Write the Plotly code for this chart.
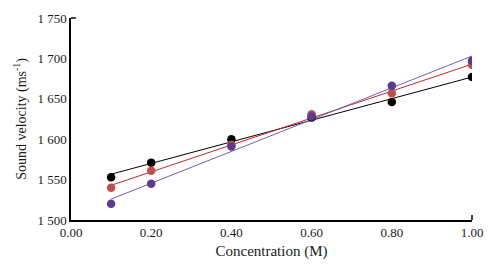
import numpy as np
import plotly.graph_objects as go

conc = [0.1, 0.2, 0.4, 0.6, 0.8, 1.0]
black_vals = [1553, 1571, 1600, 1627, 1646, 1677]
red_vals = [1540, 1561, 1593, 1631, 1657, 1692]
purple_vals = [1520, 1545, 1591, 1628, 1666, 1697]
x_ticks = [0.0, 0.2, 0.4, 0.6, 0.8, 1.0]
x_tick_labels = ["0.00", "0.20", "0.40", "0.60", "0.80", "1.00"]
y_ticks = [1500, 1550, 1600, 1650, 1700, 1750]
y_tick_labels = ["1 500", "1 550", "1 600", "1 650", "1 700", "1 750"]

series = [
    ("black", black_vals, "#000000", "#000000"),
    ("red", red_vals, "#c0504d", "#c0282d"),
    ("purple", purple_vals, "#5f3a8c", "#7060b8"),
]

fig = go.Figure()
xs = np.array(conc)
for name, vals, mcol, lcol in series:
    k, b = np.polyfit(xs, np.array(vals), 1)
    fx = [conc[0], conc[-1]]
    fig.add_trace(go.Scatter(x=fx, y=[k * v + b for v in fx], mode="lines",
                             line=dict(color=lcol, width=1), showlegend=False, hoverinfo="skip"))
for name, vals, mcol, lcol in series:
    fig.add_trace(go.Scatter(x=conc, y=vals, mode="markers",
                             marker=dict(color=mcol, size=8.5), showlegend=False, name=name))

font = dict(family="Liberation Serif, Times New Roman, serif", color="#1a1a1a", size=13)
fig.update_layout(
    width=496, height=272,
    margin=dict(l=71, r=24, t=18, b=52),
    paper_bgcolor="white", plot_bgcolor="white",
    font=font,
    xaxis=dict(range=[0, 1], tickvals=x_ticks, ticktext=x_tick_labels, showgrid=False,
               zeroline=False, showline=True, linecolor="black", linewidth=1.5,
               ticks="", title=dict(text="Concentration (M)", font=dict(size=15), standoff=6)),
    yaxis=dict(range=[1500, 1750], tickvals=y_ticks, ticktext=y_tick_labels, showgrid=False,
               zeroline=False, showline=True, linecolor="black", linewidth=1.5,
               ticks="", title=dict(text="Sound velocity (ms<sup>-1</sup>)", font=dict(size=14), standoff=8)),
)
# end caps of axes
fig.add_shape(type="line", xref="paper", yref="paper", x0=0, x1=0.012, y0=1, y1=1,
              line=dict(color="black", width=1.5))
fig.add_shape(type="line", xref="paper", yref="paper", x0=1, x1=1, y0=0, y1=0.025,
              line=dict(color="black", width=1.5))
fig.write_html("out.html", config={"displayModeBar": False},
               post_script="document.body.style.margin='0';")
